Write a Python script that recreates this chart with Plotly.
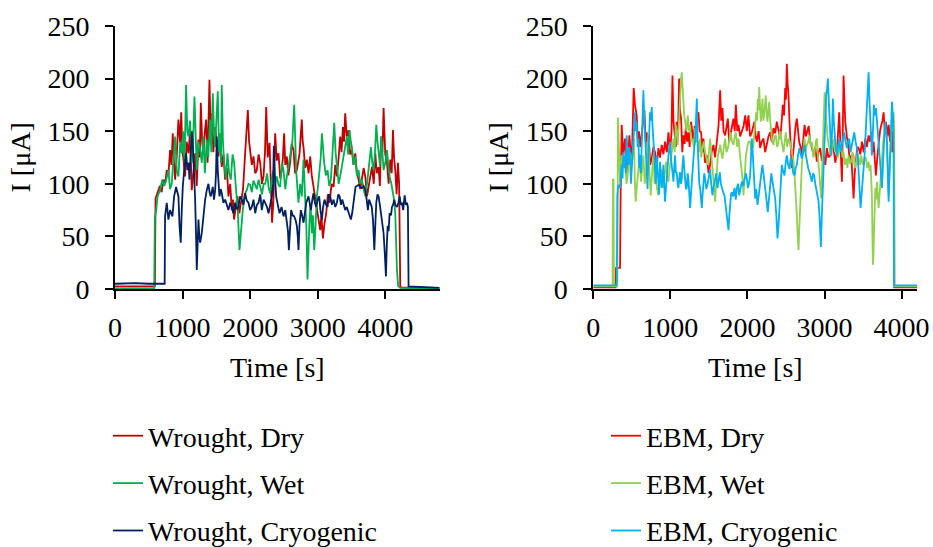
import plotly.graph_objects as go

# ---------------- data (time [s], current [uA]) ----------------
wrought_dry = [(0, 2.5), (300, 2.5), (590, 2.5), (600, 86), (620, 90), (642, 94), (665, 98), (690, 92), (715, 104), (741, 100), (766, 113), (790, 108), (815, 132), (835, 118), (855, 148), (872, 120), (890, 104), (915, 128), (939, 161), (964, 139), (980, 168), (998, 132), (1020, 118), (1038, 107), (1060, 140), (1087, 129), (1110, 150), (1136, 94), (1160, 110), (1186, 129), (1210, 98), (1235, 142), (1255, 125), (1270, 177), (1290, 140), (1309, 129), (1330, 150), (1349, 161), (1370, 120), (1398, 199), (1415, 150), (1432, 167), (1455, 130), (1482, 154), (1505, 140), (1531, 126), (1555, 145), (1580, 116), (1605, 128), (1630, 104), (1655, 115), (1679, 88), (1705, 100), (1728, 75), (1745, 85), (1763, 66), (1790, 80), (1812, 88), (1840, 72), (1862, 82), (1895, 95), (1926, 129), (1945, 150), (1966, 170), (1985, 140), (2000, 132), (2025, 118), (2050, 126), (2075, 110), (2099, 113), (2125, 128), (2149, 120), (2175, 100), (2198, 107), (2220, 130), (2238, 173), (2260, 125), (2287, 139), (2310, 100), (2325, 63), (2345, 85), (2370, 148), (2395, 122), (2420, 129), (2445, 105), (2469, 113), (2485, 125), (2503, 148), (2520, 118), (2543, 126), (2565, 108), (2592, 120), (2615, 138), (2642, 132), (2665, 110), (2691, 113), (2730, 128), (2765, 161), (2778, 140), (2790, 135), (2815, 115), (2839, 123), (2865, 110), (2889, 126), (2912, 108), (2938, 97), (2962, 85), (2988, 75), (3010, 66), (3037, 56), (3055, 70), (3077, 48), (3100, 62), (3126, 72), (3150, 90), (3176, 82), (3205, 100), (3235, 97), (3260, 118), (3284, 107), (3310, 125), (3333, 145), (3353, 130), (3373, 154), (3390, 140), (3407, 167), (3430, 145), (3457, 151), (3480, 128), (3506, 132), (3530, 118), (3556, 129), (3580, 110), (3605, 104), (3630, 95), (3654, 104), (3680, 115), (3704, 107), (3730, 88), (3753, 97), (3780, 108), (3803, 116), (3830, 100), (3852, 129), (3875, 110), (3901, 116), (3920, 98), (3941, 145), (3958, 130), (3975, 172), (4000, 128), (4025, 120), (4050, 100), (4074, 123), (4095, 110), (4114, 151), (4130, 125), (4148, 113), (4168, 90), (4188, 120), (4205, 100), (4222, 2), (4240, 1.5), (4500, 1), (4800, 1)]

wrought_wet = [(0, 0.5), (580, 0.5), (590, 68), (610, 75), (630, 88), (667, 94), (700, 104), (730, 98), (760, 104), (790, 113), (815, 95), (840, 100), (865, 125), (890, 145), (915, 112), (939, 107), (965, 140), (988, 129), (1010, 150), (1030, 120), (1052, 194), (1070, 150), (1087, 145), (1110, 160), (1136, 120), (1155, 140), (1176, 183), (1195, 130), (1210, 113), (1235, 140), (1260, 132), (1285, 120), (1309, 145), (1330, 110), (1358, 142), (1380, 125), (1408, 161), (1425, 130), (1447, 186), (1465, 150), (1482, 135), (1500, 160), (1521, 188), (1540, 130), (1556, 148), (1568, 120), (1580, 194), (1598, 140), (1615, 120), (1640, 105), (1664, 129), (1690, 110), (1714, 104), (1740, 128), (1763, 120), (1785, 100), (1803, 88), (1820, 70), (1842, 37), (1865, 60), (1891, 75), (1920, 90), (1950, 94), (1975, 100), (2000, 99), (2025, 92), (2050, 103), (2075, 99), (2100, 95), (2125, 104), (2149, 97), (2175, 90), (2200, 100), (2223, 100), (2250, 110), (2275, 96), (2297, 91), (2320, 105), (2345, 113), (2370, 100), (2395, 107), (2420, 99), (2444, 97), (2470, 120), (2494, 113), (2520, 95), (2543, 107), (2570, 118), (2602, 129), (2625, 140), (2652, 175), (2665, 130), (2681, 113), (2700, 95), (2716, 82), (2740, 100), (2765, 88), (2790, 123), (2815, 88), (2832, 60), (2849, 9), (2865, 50), (2879, 66), (2895, 80), (2914, 53), (2930, 70), (2948, 37), (2968, 60), (2988, 88), (3008, 100), (3027, 113), (3045, 125), (3062, 148), (3080, 130), (3096, 120), (3120, 108), (3146, 113), (3170, 98), (3195, 104), (3220, 130), (3245, 158), (3265, 130), (3284, 116), (3310, 100), (3333, 107), (3360, 118), (3383, 129), (3410, 140), (3432, 145), (3450, 128), (3472, 151), (3490, 140), (3506, 135), (3530, 118), (3556, 126), (3580, 108), (3605, 113), (3630, 100), (3654, 104), (3680, 95), (3704, 88), (3730, 100), (3753, 116), (3770, 128), (3788, 135), (3808, 120), (3828, 113), (3848, 130), (3867, 156), (3885, 140), (3901, 129), (3920, 118), (3941, 145), (3958, 125), (3975, 113), (4000, 120), (4025, 132), (4045, 118), (4064, 107), (4090, 100), (4114, 91), (4130, 85), (4148, 72), (4160, 45), (4173, 18), (4190, 3), (4220, 1), (4800, 0.5)]

wrought_cryo = [(0, 5), (300, 5.5), (500, 5), (735, 5), (741, 69), (766, 82), (790, 66), (815, 75), (850, 69), (875, 88), (904, 97), (925, 92), (939, 88), (955, 60), (973, 44), (988, 75), (1003, 97), (1028, 116), (1052, 129), (1072, 113), (1090, 120), (1102, 104), (1121, 132), (1136, 150), (1150, 140), (1171, 113), (1186, 85), (1200, 50), (1210, 18), (1222, 40), (1235, 66), (1248, 50), (1260, 44), (1284, 53), (1309, 72), (1334, 85), (1358, 94), (1383, 100), (1400, 92), (1418, 88), (1447, 97), (1465, 85), (1482, 94), (1495, 110), (1506, 145), (1521, 113), (1546, 88), (1565, 95), (1580, 91), (1605, 82), (1630, 85), (1655, 80), (1679, 75), (1705, 82), (1728, 78), (1750, 72), (1778, 82), (1800, 76), (1827, 78), (1850, 88), (1877, 85), (1900, 80), (1926, 91), (1950, 84), (1975, 82), (2000, 75), (2025, 78), (2050, 85), (2075, 72), (2100, 80), (2124, 82), (2150, 90), (2173, 75), (2200, 85), (2223, 82), (2250, 78), (2272, 72), (2300, 80), (2322, 88), (2340, 100), (2350, 136), (2365, 110), (2385, 88), (2410, 80), (2435, 72), (2465, 78), (2494, 69), (2520, 75), (2543, 66), (2560, 55), (2573, 37), (2590, 60), (2607, 75), (2630, 70), (2652, 69), (2675, 65), (2691, 60), (2705, 50), (2716, 37), (2730, 60), (2750, 75), (2770, 70), (2790, 63), (2810, 72), (2830, 82), (2864, 88), (2880, 80), (2899, 75), (2920, 85), (2938, 91), (2958, 82), (2978, 78), (3000, 85), (3022, 88), (3040, 75), (3062, 66), (3080, 78), (3101, 85), (3125, 80), (3146, 78), (3165, 90), (3185, 88), (3210, 80), (3235, 85), (3260, 78), (3284, 82), (3305, 90), (3324, 88), (3345, 80), (3363, 85), (3385, 80), (3407, 75), (3430, 78), (3457, 72), (3475, 68), (3491, 66), (3510, 72), (3531, 82), (3545, 90), (3560, 97), (3580, 98), (3605, 99), (3630, 97), (3654, 96), (3680, 98), (3704, 94), (3725, 85), (3743, 75), (3760, 85), (3778, 82), (3800, 78), (3818, 66), (3830, 50), (3838, 37), (3852, 60), (3867, 82), (3885, 90), (3901, 88), (3920, 80), (3941, 69), (3960, 60), (3975, 53), (3992, 35), (4010, 12), (4022, 40), (4035, 60), (4050, 55), (4064, 72), (4085, 70), (4099, 78), (4115, 80), (4133, 85), (4150, 80), (4173, 78), (4195, 82), (4213, 88), (4230, 80), (4247, 82), (4265, 75), (4287, 89), (4305, 80), (4321, 82), (4335, 78), (4345, 2.5), (4500, 2), (4800, 1)]

ebm_dry = [(0, 1.5), (290, 1.5), (295, 20), (347, 20), (355, 92), (368, 156), (390, 127), (412, 143), (442, 111), (468, 146), (498, 118), (512, 150), (524, 191), (541, 175), (563, 165), (578, 140), (593, 150), (610, 135), (628, 146), (645, 155), (663, 170), (680, 140), (693, 149), (710, 125), (724, 137), (740, 118), (758, 124), (780, 135), (801, 130), (820, 115), (845, 134), (865, 125), (888, 137), (910, 128), (931, 140), (955, 130), (975, 149), (996, 130), (1015, 150), (1027, 203), (1040, 160), (1053, 149), (1070, 135), (1083, 159), (1100, 150), (1113, 200), (1125, 170), (1139, 162), (1155, 130), (1169, 146), (1185, 138), (1200, 153), (1218, 140), (1234, 149), (1250, 135), (1269, 159), (1285, 150), (1299, 140), (1315, 155), (1330, 149), (1345, 160), (1364, 168), (1380, 150), (1399, 149), (1415, 130), (1429, 143), (1450, 120), (1473, 127), (1495, 110), (1516, 118), (1535, 130), (1559, 137), (1580, 125), (1603, 140), (1625, 155), (1646, 189), (1660, 160), (1676, 172), (1690, 150), (1711, 146), (1730, 155), (1746, 162), (1762, 140), (1780, 146), (1800, 155), (1819, 162), (1835, 150), (1850, 175), (1868, 150), (1884, 156), (1905, 145), (1927, 149), (1950, 155), (1971, 165), (1992, 150), (2013, 165), (2035, 145), (2057, 149), (2075, 155), (2091, 159), (2107, 145), (2122, 140), (2145, 150), (2165, 134), (2185, 140), (2208, 143), (2230, 130), (2251, 137), (2273, 145), (2295, 149), (2315, 140), (2338, 153), (2360, 148), (2381, 159), (2403, 150), (2425, 143), (2445, 160), (2459, 175), (2475, 165), (2490, 191), (2500, 180), (2511, 214), (2522, 195), (2533, 184), (2545, 160), (2555, 140), (2566, 125), (2576, 115), (2595, 130), (2611, 146), (2625, 155), (2641, 162), (2655, 150), (2671, 140), (2690, 135), (2706, 127), (2722, 140), (2741, 156), (2758, 145), (2775, 149), (2795, 155), (2814, 140), (2835, 135), (2858, 127), (2880, 135), (2901, 121), (2922, 130), (2944, 134), (2965, 122), (2988, 127), (3010, 118), (3031, 134), (3052, 125), (3074, 127), (3095, 140), (3117, 134), (3140, 120), (3161, 130), (3175, 150), (3191, 168), (3205, 140), (3215, 115), (3226, 102), (3237, 150), (3247, 203), (3258, 180), (3269, 159), (3290, 145), (3312, 134), (3330, 120), (3347, 127), (3360, 110), (3377, 86), (3392, 110), (3408, 127), (3425, 135), (3442, 134), (3465, 128), (3486, 140), (3508, 130), (3529, 143), (3550, 135), (3572, 146), (3590, 140), (3607, 149), (3622, 130), (3637, 140), (3652, 120), (3667, 108), (3685, 125), (3702, 140), (3720, 150), (3737, 156), (3752, 160), (3767, 168), (3782, 150), (3797, 159), (3815, 145), (3832, 156), (3850, 140), (3866, 146), (3878, 130), (3888, 159), (3900, 150), (3905, 1.5), (4200, 1.5)]

ebm_wet = [(0, 2.5), (250, 2.5), (254, 104), (262, 104), (268, 2.5), (312, 2.5), (320, 163), (330, 143), (347, 102), (360, 120), (368, 127), (390, 118), (412, 124), (430, 100), (446, 108), (462, 125), (477, 130), (498, 118), (515, 135), (528, 143), (540, 100), (550, 83), (568, 100), (585, 111), (600, 125), (619, 102), (635, 115), (650, 127), (668, 100), (684, 111), (700, 130), (715, 146), (730, 110), (745, 89), (762, 110), (780, 127), (795, 100), (810, 105), (828, 95), (845, 89), (862, 105), (879, 114), (895, 100), (910, 96), (928, 110), (944, 121), (960, 105), (975, 102), (992, 115), (1010, 127), (1025, 135), (1040, 143), (1055, 130), (1070, 156), (1083, 150), (1096, 137), (1112, 160), (1126, 191), (1138, 200), (1148, 206), (1159, 185), (1169, 178), (1180, 165), (1191, 159), (1208, 150), (1226, 165), (1240, 150), (1256, 156), (1270, 140), (1287, 143), (1305, 135), (1321, 153), (1338, 140), (1356, 140), (1370, 130), (1386, 143), (1400, 125), (1416, 134), (1433, 140), (1451, 130), (1468, 125), (1486, 118), (1500, 130), (1516, 143), (1535, 125), (1551, 111), (1566, 100), (1581, 83), (1598, 105), (1616, 127), (1630, 130), (1646, 137), (1660, 130), (1676, 124), (1694, 135), (1711, 143), (1728, 130), (1746, 134), (1762, 140), (1780, 149), (1800, 140), (1819, 137), (1835, 145), (1850, 149), (1868, 135), (1884, 143), (1900, 130), (1919, 118), (1935, 105), (1949, 89), (1965, 110), (1980, 127), (1998, 135), (2014, 140), (2035, 140), (2057, 130), (2078, 137), (2095, 150), (2113, 168), (2124, 160), (2135, 181), (2145, 170), (2152, 192), (2162, 175), (2174, 159), (2185, 170), (2195, 181), (2206, 160), (2217, 165), (2228, 175), (2238, 184), (2250, 165), (2260, 159), (2272, 170), (2282, 178), (2295, 160), (2308, 149), (2323, 140), (2338, 137), (2353, 145), (2368, 146), (2385, 135), (2403, 140), (2420, 150), (2438, 143), (2453, 135), (2468, 130), (2483, 140), (2498, 149), (2515, 135), (2533, 143), (2550, 140), (2568, 134), (2583, 128), (2598, 121), (2610, 110), (2620, 99), (2632, 80), (2641, 70), (2652, 50), (2663, 37), (2674, 60), (2684, 80), (2695, 100), (2706, 118), (2722, 130), (2741, 143), (2755, 130), (2771, 137), (2790, 140), (2806, 146), (2822, 135), (2836, 140), (2855, 125), (2871, 130), (2887, 140), (2901, 143), (2916, 125), (2931, 111), (2945, 100), (2957, 86), (2968, 110), (2979, 134), (2990, 160), (3001, 187), (3012, 175), (3022, 159), (3038, 145), (3053, 137), (3070, 130), (3087, 127), (3102, 135), (3117, 143), (3135, 130), (3152, 137), (3167, 125), (3182, 127), (3200, 140), (3217, 137), (3232, 125), (3247, 130), (3265, 118), (3282, 124), (3297, 115), (3312, 127), (3330, 120), (3347, 121), (3362, 130), (3377, 127), (3395, 115), (3412, 121), (3427, 130), (3442, 124), (3460, 118), (3477, 127), (3492, 120), (3507, 118), (3522, 125), (3537, 124), (3555, 115), (3572, 121), (3585, 112), (3598, 118), (3608, 100), (3615, 89), (3622, 50), (3628, 23), (3634, 30), (3641, 51), (3650, 75), (3659, 96), (3670, 85), (3680, 102), (3692, 90), (3702, 77), (3714, 90), (3724, 102), (3735, 110), (3745, 127), (3762, 140), (3780, 153), (3795, 150), (3810, 143), (3820, 120), (3832, 89), (3843, 110), (3854, 127), (3865, 145), (3875, 159), (3887, 150), (3897, 168), (3905, 150), (3910, 2.5), (4200, 2.5)]

ebm_cryo = [(0, 3.5), (300, 3.5), (305, 7), (312, 89), (325, 99), (347, 96), (358, 110), (368, 118), (380, 105), (390, 130), (400, 115), (412, 127), (422, 110), (433, 146), (445, 130), (455, 118), (466, 135), (477, 127), (488, 100), (498, 111), (510, 130), (520, 146), (530, 155), (541, 168), (552, 150), (563, 159), (574, 135), (585, 143), (595, 115), (606, 127), (617, 110), (628, 146), (640, 170), (650, 189), (660, 165), (671, 143), (682, 120), (693, 111), (704, 95), (715, 127), (725, 150), (736, 168), (747, 160), (758, 173), (769, 155), (780, 140), (790, 125), (801, 111), (812, 100), (823, 127), (834, 115), (845, 102), (855, 90), (866, 121), (877, 110), (888, 96), (899, 105), (910, 118), (920, 100), (931, 83), (942, 95), (953, 102), (964, 115), (975, 127), (985, 135), (996, 140), (1007, 125), (1018, 118), (1029, 105), (1040, 102), (1050, 115), (1061, 127), (1072, 110), (1083, 111), (1094, 100), (1105, 96), (1115, 105), (1126, 111), (1137, 100), (1148, 105), (1158, 118), (1169, 127), (1180, 115), (1191, 108), (1202, 95), (1213, 96), (1224, 110), (1234, 105), (1245, 90), (1256, 77), (1267, 90), (1278, 102), (1289, 115), (1299, 127), (1310, 135), (1321, 140), (1332, 160), (1343, 181), (1353, 140), (1364, 111), (1375, 100), (1386, 96), (1397, 85), (1408, 77), (1418, 90), (1429, 102), (1440, 110), (1451, 105), (1466, 95), (1481, 99), (1498, 108), (1516, 114), (1530, 100), (1546, 89), (1563, 98), (1581, 105), (1596, 110), (1611, 96), (1627, 105), (1642, 111), (1655, 100), (1668, 96), (1685, 92), (1702, 89), (1718, 80), (1733, 73), (1744, 62), (1754, 56), (1765, 70), (1776, 83), (1787, 90), (1798, 92), (1815, 88), (1832, 96), (1848, 85), (1863, 96), (1878, 100), (1893, 89), (1910, 95), (1927, 102), (1945, 98), (1962, 105), (1978, 110), (1993, 105), (2005, 96), (2020, 100), (2035, 108), (2046, 125), (2057, 143), (2068, 130), (2078, 118), (2089, 100), (2100, 86), (2115, 95), (2130, 80), (2148, 90), (2165, 105), (2180, 110), (2195, 118), (2212, 105), (2230, 96), (2247, 85), (2264, 73), (2280, 85), (2295, 96), (2310, 110), (2325, 102), (2343, 95), (2360, 86), (2375, 70), (2390, 48), (2403, 60), (2416, 80), (2431, 100), (2446, 118), (2463, 112), (2481, 108), (2496, 120), (2511, 127), (2528, 118), (2546, 114), (2561, 125), (2576, 121), (2593, 110), (2611, 108), (2626, 115), (2641, 118), (2658, 128), (2676, 134), (2691, 128), (2706, 124), (2724, 130), (2741, 137), (2756, 128), (2771, 121), (2788, 115), (2806, 111), (2821, 105), (2836, 102), (2851, 110), (2866, 108), (2880, 100), (2892, 96), (2908, 90), (2923, 83), (2935, 70), (2944, 55), (2953, 40), (2963, 65), (2972, 85), (2979, 96), (2990, 120), (3001, 143), (3012, 165), (3022, 184), (3033, 190), (3044, 200), (3055, 180), (3066, 159), (3077, 140), (3087, 127), (3098, 150), (3109, 181), (3120, 160), (3130, 146), (3145, 135), (3161, 127), (3176, 135), (3191, 143), (3208, 130), (3226, 137), (3240, 145), (3256, 149), (3273, 140), (3291, 134), (3306, 140), (3321, 143), (3338, 130), (3356, 137), (3371, 145), (3386, 149), (3403, 140), (3421, 134), (3436, 120), (3451, 96), (3460, 85), (3468, 77), (3481, 90), (3494, 102), (3507, 115), (3520, 127), (3535, 150), (3550, 175), (3561, 190), (3572, 206), (3583, 180), (3594, 159), (3605, 140), (3615, 127), (3628, 150), (3641, 175), (3654, 165), (3667, 172), (3680, 160), (3693, 149), (3706, 140), (3719, 127), (3732, 110), (3745, 96), (3756, 120), (3767, 143), (3778, 150), (3789, 159), (3800, 150), (3810, 140), (3821, 110), (3832, 83), (3843, 110), (3854, 143), (3865, 160), (3875, 178), (3888, 165), (3896, 140), (3901, 3.5), (4200, 3.5)]

left_series = [("Wrought, Dry", wrought_dry, "#C00000"),
               ("Wrought, Wet", wrought_wet, "#00B050"),
               ("Wrought, Cryogenic", wrought_cryo, "#002060")]
right_series = [("EBM, Dry", ebm_dry, "#FF0000"),
                ("EBM, Wet", ebm_wet, "#92D050"),
                ("EBM, Cryogenic", ebm_cryo, "#00B0F0")]
x_ticks = [0, 1000, 2000, 3000, 4000]
y_ticks = [0, 50, 100, 150, 200, 250]
x_title = "Time [s]"
y_title = "I [μA]"

FONT = "Liberation Serif"
W, H = 933, 547

fig = go.Figure()
for name, pts, col in left_series:
    fig.add_trace(go.Scatter(x=[p[0] for p in pts], y=[p[1] for p in pts], mode="lines",
                             name=name, line=dict(color=col, width=1.8),
                             xaxis="x", yaxis="y", legend="legend", legendgroup=name))
for name, pts, col in right_series:
    fig.add_trace(go.Scatter(x=[p[0] for p in pts], y=[p[1] for p in pts], mode="lines",
                             name=name, line=dict(color=col, width=1.8),
                             xaxis="x2", yaxis="y2", legend="legend2", legendgroup=name))

base = dict(showline=True, linecolor="black", linewidth=2, ticks="outside",
            ticklen=8, tickwidth=2, tickcolor="black", showgrid=False,
            zeroline=False, automargin=False,
            tickfont=dict(family=FONT, size=28, color="black"))
xstyle = dict(base, ticklabelstandoff=4)
ystyle = dict(base, ticklabelstandoff=10)
ydom = [1 - 289 / H, 1 - 26 / H]
lx = [115 / W, 440 / W]
rx = [593.3 / W, 917 / W]

tfont = dict(family=FONT, size=28, color="black")
annotations = []
for dom in (lx, rx):
    annotations.append(dict(text=x_title, xref="paper", yref="paper", x=(dom[0] + dom[1]) / 2,
                            y=1 - 367 / H, xanchor="center", yanchor="middle",
                            showarrow=False, font=tfont))
for xc in (20, 498):
    annotations.append(dict(text=y_title, xref="paper", yref="paper", x=xc / W,
                            y=1 - 157.5 / H, xanchor="center", yanchor="middle",
                            textangle=-90, showarrow=False, font=tfont))

fig.update_layout(
    width=W, height=H, autosize=False,
    paper_bgcolor="white", plot_bgcolor="white",
    margin=dict(l=0, r=0, t=0, b=0, autoexpand=False),
    font=tfont,
    xaxis=dict(domain=lx, range=[0, 4810], tickvals=x_ticks, anchor="y", **xstyle),
    yaxis=dict(domain=ydom, range=[0, 250], tickvals=y_ticks, anchor="x", **ystyle),
    xaxis2=dict(domain=rx, range=[0, 4200], tickvals=x_ticks, anchor="y2", **xstyle),
    yaxis2=dict(domain=ydom, range=[0, 250], tickvals=y_ticks, anchor="x2", **ystyle),
    legend=dict(x=108 / W, y=1 - 411 / H, xanchor="left", yanchor="top",
                tracegroupgap=8, traceorder="grouped", bgcolor="rgba(0,0,0,0)",
                font=tfont),
    legend2=dict(x=606 / W, y=1 - 411 / H, xanchor="left", yanchor="top",
                 tracegroupgap=8, traceorder="grouped", bgcolor="rgba(0,0,0,0)",
                 font=tfont),
    annotations=annotations,
    showlegend=True,
)

fig.write_html("out.html", config={"displayModeBar": False},
               post_script="document.body.style.margin='0';document.body.style.overflow='hidden';")
